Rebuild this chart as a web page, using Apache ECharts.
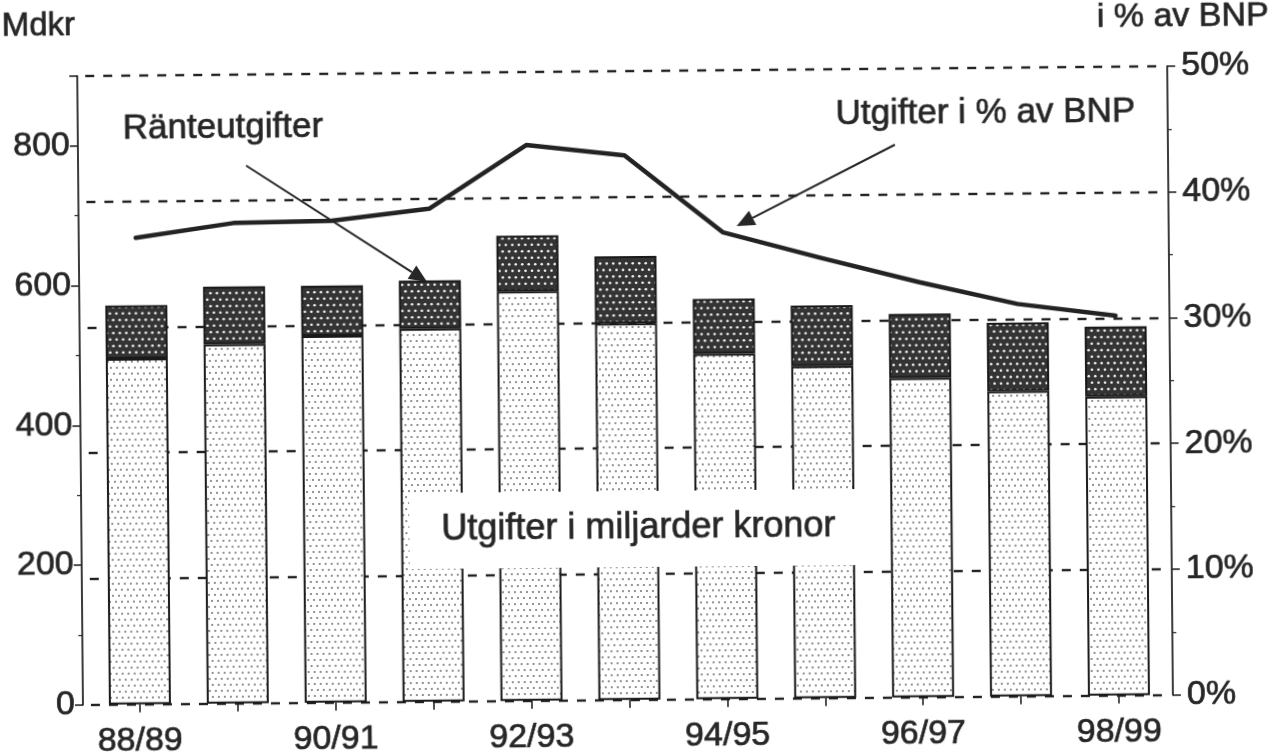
<!DOCTYPE html>
<html>
<head>
<meta charset="utf-8">
<script src="https://cdn.jsdelivr.net/npm/echarts@6/dist/echarts.min.js"></script>
<style>
html,body{margin:0;padding:0;background:#fff;overflow:hidden;}
#chart{width:1282px;height:754px;transform:rotate(-0.52deg);transform-origin:641px 377px;}
</style>
</head>
<body>
<div id="chart"></div>
<script>
// ---- data ----
const categories = ['88/89','89/90','90/91','91/92','92/93','93/94','94/95','95/96','96/97','97/98','98/99'];
const baseSpending = [495, 514, 525, 534, 586, 539, 494, 475, 457, 437, 428];   // Mdkr excl. interest
const interestSpending = [76, 83, 72, 69, 80, 96, 79, 87, 92, 98, 100];       // Ränteutgifter, Mdkr
const pctOfGdp = [37.1, 38.2, 38.3, 39.2, 44.2, 43.3, 37.1, 35.0, 33.0, 31.2, 30.2]; // i % av BNP
const leftLabels = [0, 200, 400, 600, 800];
const leftMinor = [100, 300, 500, 700];

const FONT = "'Liberation Sans', Arial, Helvetica, sans-serif";
const INK = '#262626';
const TB = 0.7; // slight stroke to mimic heavier printed text

function makePattern(bg, dot, step, r) {
  const c = document.createElement('canvas');
  c.width = step * 2; c.height = step * 2;
  const g = c.getContext('2d');
  g.fillStyle = bg; g.fillRect(0, 0, c.width, c.height);
  g.fillStyle = dot;
  const pts = [[0.5*step,0.5*step],[1.5*step,0.5*step],[0,1.5*step],[step,1.5*step],[2*step,1.5*step]];
  pts.forEach(p => { g.beginPath(); g.arc(p[0], p[1], r, 0, Math.PI*2); g.fill(); });
  return c;
}
const lightPat = makePattern('#ffffff', '#6e6e6e', 6, 1.0);
const darkPat = makePattern('#343434', '#f0f0f0', 6.5, 1.35);

function arrow(x1, y1, x2, y2) {
  const ang = Math.atan2(y2 - y1, x2 - x1);
  const L = 18, W = 8;
  const bx = x2 - L * Math.cos(ang), by = y2 - L * Math.sin(ang);
  const px = -Math.sin(ang) * W, py = Math.cos(ang) * W;
  return [
    { type: 'line', z: 100, shape: { x1, y1, x2: bx, y2: by }, style: { stroke: INK, lineWidth: 2 } },
    { type: 'polygon', z: 100, shape: { points: [[x2, y2], [bx + px, by + py], [bx - px, by - py]] }, style: { fill: INK } }
  ];
}
function label(x, y, text, size, align) {
  return { type: 'text', z: 100, style: { x, y, text, fontSize: size, fontFamily: FONT, fill: INK,
    stroke: INK, lineWidth: TB, textAlign: align || 'left', textVerticalAlign: 'middle' } };
}
const axisFont = { fontSize: 34, color: INK, fontFamily: FONT, textBorderColor: INK, textBorderWidth: TB };

const chart = echarts.init(document.getElementById('chart'), null, { renderer: 'canvas' });
const option = {
  backgroundColor: '#fff',
  animation: false,
  grid: { left: 88, right: 117, top: 71, bottom: 53, containLabel: false },
  xAxis: {
    type: 'category',
    data: categories,
    axisLine: { show: false },
    axisTick: { show: true, alignWithLabel: true, interval: 0, length: 8, lineStyle: { color: INK, width: 1.6 } },
    axisLabel: Object.assign({ interval: 1, margin: 20 }, axisFont),
    splitLine: { show: false }
  },
  yAxis: [
    {
      type: 'value', position: 'left', offset: 8, min: 0, max: 900,
      axisLine: { show: true, lineStyle: { color: INK, width: 1.8 } },
      axisTick: { show: true, length: 8, customValues: leftLabels.concat([900]), lineStyle: { color: INK, width: 1.6 } },
      axisLabel: Object.assign({ customValues: leftLabels, margin: 8 }, axisFont),
      splitLine: { show: false }
    },
    {
      type: 'value', position: 'right', offset: 5, min: 0, max: 50, interval: 10,
      axisLine: { show: true, lineStyle: { color: INK, width: 1.8 } },
      axisTick: { show: true, length: 8, lineStyle: { color: INK, width: 1.6 } },
      minorTick: { show: true, splitNumber: 2, length: 4, lineStyle: { color: INK, width: 1.2 } },
      axisLabel: Object.assign({ formatter: '{value}%', margin: 14 }, axisFont),
      splitLine: { show: true, lineStyle: { color: '#222', width: 2.4, type: [9, 9] } }
    },
    {
      type: 'value', position: 'left', offset: 8, min: 0, max: 900,
      axisLine: { show: false },
      axisTick: { show: true, length: 4, customValues: leftMinor, lineStyle: { color: INK, width: 1.2 } },
      axisLabel: { show: false },
      splitLine: { show: false }
    }
  ],
  series: [
    {
      name: 'Utgifter i miljarder kronor', type: 'bar', stack: 'tot', yAxisIndex: 0, barWidth: 62,
      data: baseSpending,
      itemStyle: { color: { image: lightPat, repeat: 'repeat' }, borderColor: '#1a1a1a', borderWidth: 2 }
    },
    {
      name: 'Ränteutgifter', type: 'bar', stack: 'tot', yAxisIndex: 0, barWidth: 62,
      data: interestSpending,
      itemStyle: { color: { image: darkPat, repeat: 'repeat' }, borderColor: '#1a1a1a', borderWidth: 2 }
    },
    {
      name: 'Utgifter i % av BNP', type: 'line', yAxisIndex: 1, z: 5,
      data: pctOfGdp, showSymbol: false, symbol: 'none',
      lineStyle: { color: '#232323', width: 4.5, cap: 'round', join: 'round' }
    }
  ],
  graphic: [
    label(5, 21, 'Mdkr', 33),
    label(1100, 22, 'i % av BNP', 34),
    label(125, 124, 'Ränteutgifter', 35),
    label(838, 116, 'Utgifter i % av BNP', 35),
    { type: 'rect', z: 99, shape: { x: 408, y: 491, width: 446, height: 76 }, style: { fill: '#fff' } },
    label(637, 528, 'Utgifter i miljarder kronor', 36, 'center')
  ].concat(arrow(248, 162, 428, 280)).concat(arrow(897, 147, 738, 227))
};
chart.setOption(option);
</script>
</body>
</html>
